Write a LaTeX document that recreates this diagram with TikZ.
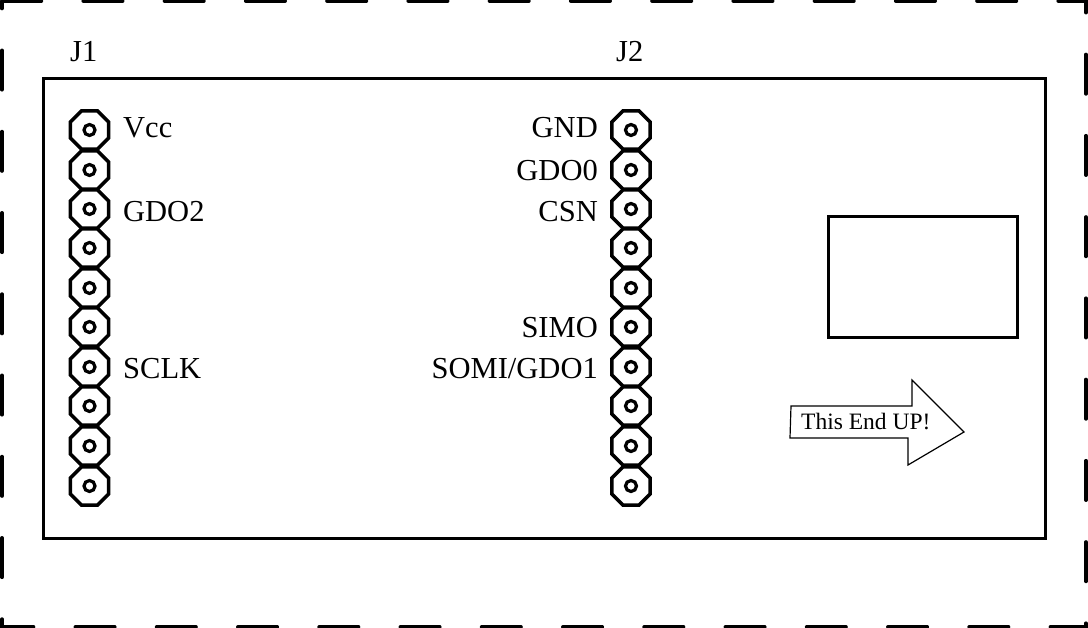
\documentclass[tikz,border=0pt]{standalone}
\usepackage{fontspec}
\setmainfont{Liberation Serif}
\usetikzlibrary{shapes.geometric}
\tikzset{
  x=1pt,y=-1pt,
  pinoct/.style={draw,line width=3.4pt,regular polygon,regular polygon sides=8,minimum size=41.5pt,inner sep=0pt,outer sep=0pt},
  pinhole/.style={draw,line width=3.2pt,circle,minimum size=11pt,inner sep=0pt},
  pintext/.style={inner sep=0pt,font=\fontsize{30.5}{31}\selectfont},
  leftlbl/.style={pintext,anchor=base west},
  rightlbl/.style={pintext,anchor=base east},
  outerdash/.style={line width=3.6pt,line cap=round,dash pattern=on 39.4pt off 41.85pt,dash phase=0pt},
  boardbox/.style={draw,line width=3pt,line join=miter},
}
\begin{document}
\begin{tikzpicture}
\useasboundingbox (0,0) rectangle (1088,628);
\draw[outerdash] (2,1) -- (1086,1) -- (1086,627) -- (2,627) -- cycle;
\draw[boardbox] (43,79) rectangle (1045,538);
\node[boardbox] (win) at (923,277.5) [minimum width=189pt,minimum height=121pt,inner sep=0pt,outer sep=0pt] {};
\foreach \n/\y in {1/130,2/170,3/209,4/248,5/288,6/327,7/367,8/406,9/446,10/486}{
  \node[pinoct] (a\n) at (89.5,\y) {};
  \node[pinhole] (ah\n) at (89.5,\y) {};
  \node[pinoct] (b\n) at (631,\y) {};
  \node[pinhole] (bh\n) at (631,\y) {};
}
\node[leftlbl] (j1) at (70,62) {J1};
\node[leftlbl] (j2) at (616,62) {J2};
\node[leftlbl] (vcc) at (123,138) {Vcc};
\node[leftlbl] (gdo2) at (123,222) {GDO2};
\node[leftlbl] (sclk) at (123,379) {SCLK};
\node[rightlbl] (gnd) at (598,138) {GND};
\node[rightlbl] (gdo0) at (598,181) {GDO0};
\node[rightlbl] (csn) at (598,222) {CSN};
\node[rightlbl] (simo) at (598,338) {SIMO};
\node[rightlbl] (somi) at (598,379) {SOMI/GDO1};
\draw[line width=1.2pt,line join=miter] (791,406) -- (912,406) -- (912,380) -- (964,432) -- (908,465) -- (908,438) -- (790,438) -- cycle;
\node[inner sep=0pt,anchor=base west,font=\fontsize{23.5}{24}\selectfont] (up) at (801,430) {This End UP!};
\end{tikzpicture}
\end{document}
